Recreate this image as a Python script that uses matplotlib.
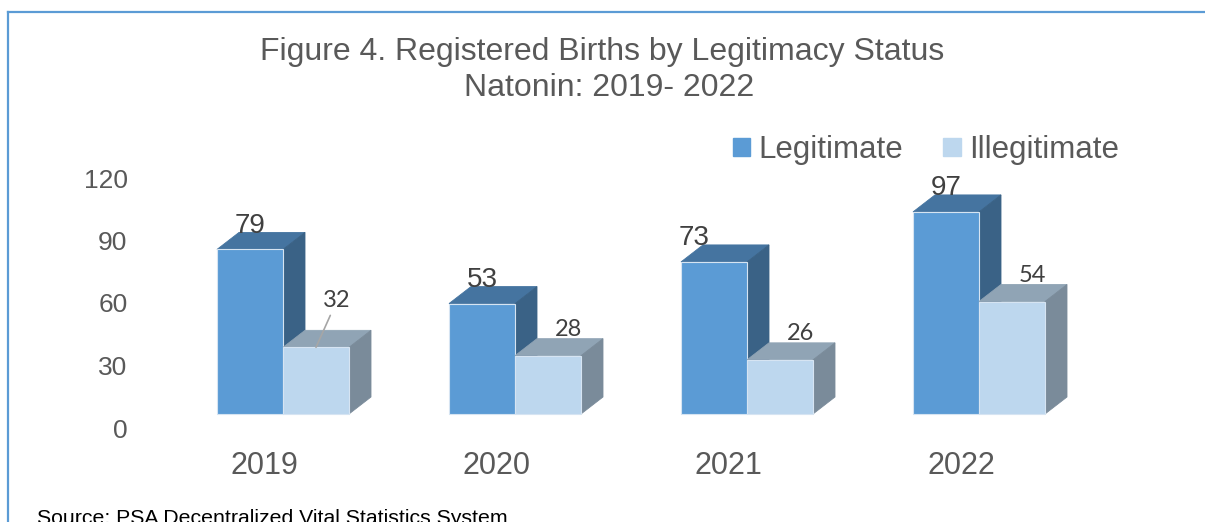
import matplotlib
matplotlib.use('Agg')
import matplotlib.pyplot as plt
import matplotlib.transforms as mtransforms
from matplotlib.patches import Polygon, Patch
from matplotlib.lines import Line2D

# data
years = ['2019', '2020', '2021', '2022']
legit = [79, 53, 73, 97]
illegit = [32, 28, 26, 54]
yticks = [0, 30, 60, 90, 120]

# colours (front, top, side)
c_leg = ('#5B9BD5', '#4574A0', '#3A6286')
c_ill = ('#BDD7EE', '#90A4B5', '#7A8B9A')

W, H = 1205, 522
fig = plt.figure(figsize=(W/100, H/100), dpi=100)
fig.patch.set_facecolor('white')

# plot area in pixels
left, right, bottom, top = 140, 1140, 414, 164
ax = fig.add_axes([left/W, (H-bottom)/H, (right-left)/W, (bottom-top)/H])
unit = 232.0                      # px per category
x0 = -(283-left)/unit
ax.set_xlim(x0, x0 + (right-left)/unit)
ax.set_ylim(0, 120)
pxy = (bottom-top)/120.0          # px per value unit

w = 66/unit                       # bar width
dx = 22/unit                      # 3d depth offset
dy = 17/pxy

def box(x_a, x_b, h, cols):
    front, topc, side = cols
    ax.add_patch(Polygon([(x_a, h), (x_b, h), (x_b+dx, h+dy), (x_a+dx, h+dy)],
                         closed=True, fc=topc, ec=topc, lw=0.6, clip_on=False))
    ax.add_patch(Polygon([(x_b, 0), (x_b+dx, dy), (x_b+dx, h+dy), (x_b, h)],
                         closed=True, fc=side, ec=side, lw=0.6, clip_on=False))
    ax.add_patch(Polygon([(x_a, 0), (x_b, 0), (x_b, h), (x_a, h)],
                         closed=True, fc=front, ec='#D6E4F2', lw=0.8, clip_on=False))

leg_dx = [0, 0, -14, 0]           # label nudges (pt)
ill_lift = [20, 0, 0, 0]

for i in range(len(years)):
    box(i-w, i, legit[i], c_leg)
    box(i, i+w, illegit[i], c_ill)
    ax.annotate(str(legit[i]), xy=(i-w/2, legit[i]), xytext=(leg_dx[i], 12),
                textcoords='offset points', ha='center', va='baseline',
                fontsize=20, color='#404040', family='Liberation Sans')
    kw = {}
    if ill_lift[i]:
        kw['arrowprops'] = dict(arrowstyle='-', color='#A6A6A6', lw=1.2,
                                shrinkA=1, shrinkB=0)
    ax.annotate(str(illegit[i]), xy=(i+w/2, illegit[i]),
                xytext=(15, 14.4 + ill_lift[i]*0.72),
                textcoords='offset points', ha='center', va='baseline',
                fontsize=17, color='#404040', family='Lato', **kw)

for s in ax.spines.values():
    s.set_visible(False)
ax.set_facecolor('none')
ax.set_yticks(yticks)
ax.set_yticklabels([str(t) for t in yticks], fontsize=19, color='#595959',
                   family='Liberation Sans')
ax.set_xticks([i - 0.078 for i in range(len(years))])
ax.set_xticklabels(years, fontsize=22, color='#595959', family='Liberation Sans')
ax.tick_params(axis='y', length=0, pad=9)
ax.tick_params(axis='x', length=0, pad=27)
off = mtransforms.ScaledTranslation(0, -14/100, fig.dpi_scale_trans)
for lab in ax.get_yticklabels():
    lab.set_transform(lab.get_transform() + off)

# title
fig.text(0.5, 1-52/H, 'Figure 4. Registered Births by Legitimacy Status',
         ha='center', va='center', fontsize=23, color='#595959', family='Liberation Sans')
fig.text(609/W, 1-88/H, 'Natonin: 2019- 2022',
         ha='center', va='center', fontsize=23, color='#595959', family='Liberation Sans')

# legend
handles = [Patch(fc=c_leg[0], ec=c_leg[0]), Patch(fc=c_ill[0], ec=c_ill[0])]
fig.legend(handles, ['Legitimate', 'Illegitimate'], loc='center left',
           bbox_to_anchor=(733/W, 1-150/H), frameon=False, ncol=2,
           prop={'family': 'Liberation Sans', 'size': 22.5}, labelcolor='#595959',
           handlelength=0.55, handleheight=0.55, handletextpad=0.26,
           columnspacing=1.29, borderpad=0, borderaxespad=0)

# source
fig.text(37/W, 1-509/H, 'Source: PSA Decentralized Vital Statistics System',
         ha='left', va='top', fontsize=15.3, color='black', family='Liberation Sans')

# frame
fig.add_artist(Line2D([8/W, 1], [1-12/H, 1-12/H], color='#5B9BD5', lw=1.6))
fig.add_artist(Line2D([8/W, 8/W], [0, 1-12/H], color='#5B9BD5', lw=1.6))

fig.savefig('out.png', dpi=100, facecolor='white')
